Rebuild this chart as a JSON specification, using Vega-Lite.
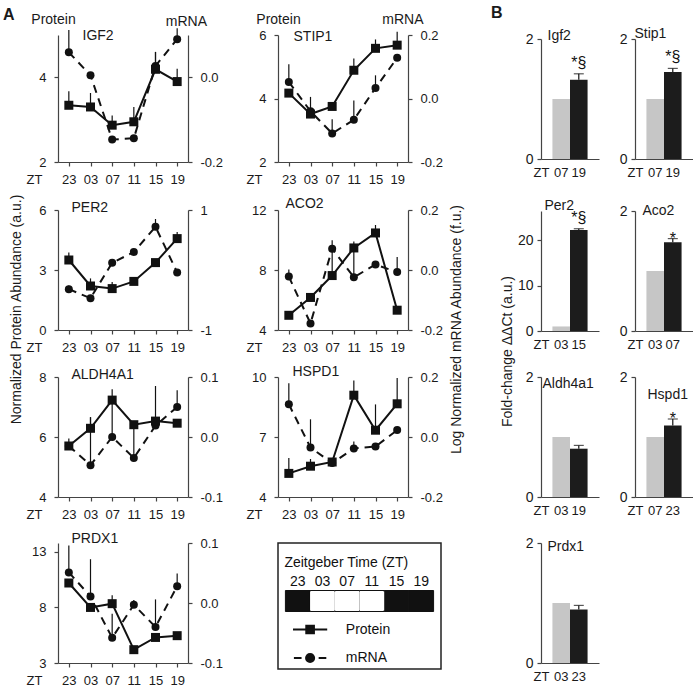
{
  "$schema": "https://vega.github.io/schema/vega-lite/v6.json",
  "padding": {"left": 3, "top": 5, "right": 0, "bottom": 0},
  "config": {
    "font": "Liberation Sans",
    "view": {"stroke": null},
    "axis": {"grid": false, "labelFontSize": 13, "labelColor": "#1a1a1a", "titleColor": "#1a1a1a", "titleFontWeight": "normal", "titleFontSize": 14, "domainColor": "#444", "tickColor": "#444", "tickSize": 4, "domainWidth": 1.2, "tickWidth": 1.2, "labelExpr": "replace(datum.label, '−', '-')"},
    "title": {"fontWeight": "normal", "color": "#1a1a1a", "fontSize": 14}
  },
  "datasets": {
    "a": [
      {"g": "IGF2", "zt": "23", "p": 3.34, "ph": 3.67, "m": 0.059, "mh": 0.112},
      {"g": "IGF2", "zt": "03", "p": 3.30, "ph": 3.63, "m": 0.005, "mh": 0.012},
      {"g": "IGF2", "zt": "07", "p": 2.87, "ph": 3.10, "m": -0.147, "mh": -0.140},
      {"g": "IGF2", "zt": "11", "p": 2.95, "ph": 3.30, "m": -0.144, "mh": -0.140},
      {"g": "IGF2", "zt": "15", "p": 4.19, "ph": 4.60, "m": 0.027, "mh": 0.060},
      {"g": "IGF2", "zt": "19", "p": 3.90, "ph": 4.20, "m": 0.090, "mh": 0.116},
      {"g": "STIP1", "zt": "23", "p": 4.17, "ph": 4.25, "m": 0.052, "mh": 0.108},
      {"g": "STIP1", "zt": "03", "p": 3.51, "ph": 4.05, "m": -0.040, "mh": -0.035},
      {"g": "STIP1", "zt": "07", "p": 3.75, "ph": 3.80, "m": -0.110, "mh": -0.065},
      {"g": "STIP1", "zt": "11", "p": 4.89, "ph": 5.26, "m": -0.067, "mh": -0.006},
      {"g": "STIP1", "zt": "15", "p": 5.58, "ph": 5.86, "m": 0.033, "mh": 0.073},
      {"g": "STIP1", "zt": "19", "p": 5.68, "ph": 6.10, "m": 0.128, "mh": 0.140},
      {"g": "PER2", "zt": "23", "p": 3.50, "ph": 3.87, "m": -0.32, "mh": -0.26},
      {"g": "PER2", "zt": "03", "p": 2.20, "ph": 2.58, "m": -0.47, "mh": -0.45},
      {"g": "PER2", "zt": "07", "p": 2.07, "ph": 2.40, "m": 0.12, "mh": 0.15},
      {"g": "PER2", "zt": "11", "p": 2.43, "ph": 2.50, "m": 0.30, "mh": 0.33},
      {"g": "PER2", "zt": "15", "p": 3.37, "ph": 3.45, "m": 0.72, "mh": 0.85},
      {"g": "PER2", "zt": "19", "p": 4.57, "ph": 4.90, "m": -0.04, "mh": 0.0},
      {"g": "ACO2", "zt": "23", "p": 4.98, "ph": 5.10, "m": -0.022, "mh": 0.002},
      {"g": "ACO2", "zt": "03", "p": 6.17, "ph": 6.40, "m": -0.178, "mh": -0.170},
      {"g": "ACO2", "zt": "07", "p": 7.63, "ph": 9.30, "m": 0.071, "mh": 0.099},
      {"g": "ACO2", "zt": "11", "p": 9.47, "ph": 9.90, "m": -0.024, "mh": 0.066},
      {"g": "ACO2", "zt": "15", "p": 10.47, "ph": 11.0, "m": 0.018, "mh": 0.030},
      {"g": "ACO2", "zt": "19", "p": 5.32, "ph": 5.50, "m": -0.007, "mh": 0.043},
      {"g": "ALDH4A1", "zt": "23", "p": 5.70, "ph": 5.95, "m": -0.015, "mh": -0.010},
      {"g": "ALDH4A1", "zt": "03", "p": 6.29, "ph": 6.66, "m": -0.047, "mh": 0.033},
      {"g": "ALDH4A1", "zt": "07", "p": 7.23, "ph": 7.59, "m": 0.000, "mh": 0.062},
      {"g": "ALDH4A1", "zt": "11", "p": 6.41, "ph": 6.45, "m": -0.035, "mh": 0.020},
      {"g": "ALDH4A1", "zt": "15", "p": 6.53, "ph": 7.70, "m": 0.019, "mh": 0.025},
      {"g": "ALDH4A1", "zt": "19", "p": 6.46, "ph": 6.50, "m": 0.050, "mh": 0.078},
      {"g": "HSPD1", "zt": "23", "p": 5.18, "ph": 5.95, "m": 0.109, "mh": 0.179},
      {"g": "HSPD1", "zt": "03", "p": 5.54, "ph": 5.90, "m": -0.035, "mh": 0.059},
      {"g": "HSPD1", "zt": "07", "p": 5.75, "ph": 5.85, "m": -0.087, "mh": -0.080},
      {"g": "HSPD1", "zt": "11", "p": 9.09, "ph": 9.83, "m": -0.038, "mh": -0.015},
      {"g": "HSPD1", "zt": "15", "p": 7.34, "ph": 8.63, "m": -0.032, "mh": -0.025},
      {"g": "HSPD1", "zt": "19", "p": 8.66, "ph": 9.95, "m": 0.023, "mh": 0.030},
      {"g": "PRDX1", "zt": "23", "p": 10.2, "ph": 10.4, "m": 0.051, "mh": 0.096},
      {"g": "PRDX1", "zt": "03", "p": 8.0, "ph": 8.1, "m": 0.011, "mh": 0.073},
      {"g": "PRDX1", "zt": "07", "p": 8.34, "ph": 9.1, "m": -0.058, "mh": -0.018},
      {"g": "PRDX1", "zt": "11", "p": 4.2, "ph": 4.4, "m": -0.003, "mh": 0.005},
      {"g": "PRDX1", "zt": "15", "p": 5.3, "ph": 5.5, "m": -0.040, "mh": 0.006},
      {"g": "PRDX1", "zt": "19", "p": 5.46, "ph": 5.8, "m": 0.028, "mh": 0.049}
    ],
    "b": [
      {"g": "Igf2", "zt": "07", "k": "c", "v": 1.0},
      {"g": "Igf2", "zt": "19", "k": "t", "v": 1.32, "vh": 1.42, "sig": "*§"},
      {"g": "Stip1", "zt": "07", "k": "c", "v": 1.0},
      {"g": "Stip1", "zt": "19", "k": "t", "v": 1.45, "vh": 1.51, "sig": "*§"},
      {"g": "Per2", "zt": "03", "k": "c", "v": 1.0},
      {"g": "Per2", "zt": "15", "k": "t", "v": 22.2, "vh": 22.5, "sig": "*§"},
      {"g": "Aco2", "zt": "03", "k": "c", "v": 1.0},
      {"g": "Aco2", "zt": "07", "k": "t", "v": 1.48, "vh": 1.54, "sig": "*"},
      {"g": "Aldh4a1", "zt": "03", "k": "c", "v": 1.0},
      {"g": "Aldh4a1", "zt": "19", "k": "t", "v": 0.805, "vh": 0.86, "sig": ""},
      {"g": "Hspd1", "zt": "07", "k": "c", "v": 1.0},
      {"g": "Hspd1", "zt": "23", "k": "t", "v": 1.19, "vh": 1.30, "sig": "*"},
      {"g": "Prdx1", "zt": "03", "k": "c", "v": 1.0},
      {"g": "Prdx1", "zt": "23", "k": "t", "v": 0.89, "vh": 0.96, "sig": ""}
    ],
    "leg": [
      {"row": "title", "label": "Zeitgeber Time (ZT)"},
      {"row": "bar", "zt": "23", "phase": "dark"},
      {"row": "bar", "zt": "03", "phase": "light"},
      {"row": "bar", "zt": "07", "phase": "light"},
      {"row": "bar", "zt": "11", "phase": "light"},
      {"row": "bar", "zt": "15", "phase": "dark"},
      {"row": "bar", "zt": "19", "phase": "dark"},
      {"row": "Protein", "label": "Protein"},
      {"row": "mRNA", "label": "mRNA"}
    ]
  },
  "spacing": 25,
  "center": true,
  "hconcat": [
    {
      "title": {"text": "A", "anchor": "start", "fontWeight": "bold", "fontSize": 16, "baseline": "middle", "offset": -3, "dy": 16, "dx": -7},
      "vconcat": [
        {
          "title": {"text": "Log Normalized mRNA Abundance (f.u.)", "orient": "right", "anchor": "middle", "angle": -90, "offset": -6, "dx": 20, "fontSize": 14},
          "vconcat": [
            {
              "title": {"text": "Normalized Protein Abundance (a.u.)", "orient": "left", "anchor": "middle", "offset": 2, "dx": 40, "fontSize": 14},
              "columns": 2,
              "spacing": {"row": 10, "column": 23},
              "concat": [
                {
                  "width": 130, "height": 127,
                  "title": {"text": "mRNA", "frame": "group", "anchor": "end", "dx": 19, "offset": -23.7, "baseline": "middle", "fontSize": 14},
                  "data": {"name": "a"},
                  "transform": [{"filter": "datum.g === 'IGF2'"}],
                  "encoding": {"x": {"field": "zt", "type": "ordinal", "sort": ["23", "03", "07", "11", "15", "19"], "scale": {"type": "point", "padding": 0.5}, "axis": {"title": "ZT", "titleX": -16, "titleY": 11, "titleAlign": "right", "titleBaseline": "top", "titleFontSize": 13, "labelAngle": 0, "labelPadding": 7}}},
                  "layer": [
                    {"encoding": {"y": {"field": "m", "type": "quantitative", "scale": {"domain": [-0.2, 0.1], "nice": false, "zero": false}, "axis": {"orient": "right", "values": [-0.2, 0], "format": ".1f", "labelPadding": 8, "title": "IGF2", "titleAngle": 0, "titleX": -106, "titleY": 0, "titleAlign": "left", "titleBaseline": "middle"}}},
                     "layer": [
                      {"mark": {"type": "rule", "color": "#111", "strokeWidth": 1.2}, "encoding": {"y2": {"field": "mh"}}},
                      {"mark": {"type": "line", "color": "#111", "strokeWidth": 2, "strokeDash": [8, 6]}},
                      {"mark": {"type": "point", "shape": "circle", "filled": true, "size": 64, "color": "#111", "opacity": 1}}
                    ]},
                    {"encoding": {"y": {"field": "p", "type": "quantitative", "scale": {"domain": [2, 5], "nice": false, "zero": false}, "axis": {"orient": "left", "values": [2, 4], "labelPadding": 8, "title": "Protein", "titleAngle": 0, "titleX": -5, "titleY": -16, "titleAlign": "center", "titleBaseline": "middle"}}},
                     "layer": [
                      {"mark": {"type": "rule", "color": "#111", "strokeWidth": 1.2}, "encoding": {"y2": {"field": "ph"}}},
                      {"mark": {"type": "line", "color": "#111", "strokeWidth": 2}},
                      {"mark": {"type": "point", "shape": "square", "filled": true, "size": 81, "color": "#111", "opacity": 1}}
                    ]}
                  ],
                  "resolve": {"scale": {"y": "independent"}}
                },
                {
                  "width": 130, "height": 127,
                  "title": {"text": "mRNA", "frame": "group", "anchor": "end", "dx": 15.5, "offset": -22.4, "baseline": "middle", "fontSize": 14},
                  "data": {"name": "a"},
                  "transform": [{"filter": "datum.g === 'STIP1'"}],
                  "encoding": {"x": {"field": "zt", "type": "ordinal", "sort": ["23", "03", "07", "11", "15", "19"], "scale": {"type": "point", "padding": 0.5}, "axis": {"title": "ZT", "titleX": -16, "titleY": 11, "titleAlign": "right", "titleBaseline": "top", "titleFontSize": 13, "labelAngle": 0, "labelPadding": 7}}},
                  "layer": [
                    {"encoding": {"y": {"field": "m", "type": "quantitative", "scale": {"domain": [-0.2, 0.2], "nice": false, "zero": false}, "axis": {"orient": "right", "values": [-0.2, 0, 0.2], "format": ".1f", "labelPadding": 8, "title": "STIP1", "titleAngle": 0, "titleX": -115, "titleY": 1.7, "titleAlign": "left", "titleBaseline": "middle"}}},
                     "layer": [
                      {"mark": {"type": "rule", "color": "#111", "strokeWidth": 1.2}, "encoding": {"y2": {"field": "mh"}}},
                      {"mark": {"type": "line", "color": "#111", "strokeWidth": 2, "strokeDash": [8, 6]}},
                      {"mark": {"type": "point", "shape": "circle", "filled": true, "size": 64, "color": "#111", "opacity": 1}}
                    ]},
                    {"encoding": {"y": {"field": "p", "type": "quantitative", "scale": {"domain": [2, 6], "nice": false, "zero": false}, "axis": {"orient": "left", "values": [2, 4, 6], "labelPadding": 8, "title": "Protein", "titleAngle": 0, "titleX": 0, "titleY": -16, "titleAlign": "center", "titleBaseline": "middle"}}},
                     "layer": [
                      {"mark": {"type": "rule", "color": "#111", "strokeWidth": 1.2}, "encoding": {"y2": {"field": "ph"}}},
                      {"mark": {"type": "line", "color": "#111", "strokeWidth": 2}},
                      {"mark": {"type": "point", "shape": "square", "filled": true, "size": 81, "color": "#111", "opacity": 1}}
                    ]}
                  ],
                  "resolve": {"scale": {"y": "independent"}}
                },
                {
                  "width": 130, "height": 120,
                  "data": {"name": "a"},
                  "transform": [{"filter": "datum.g === 'PER2'"}],
                  "encoding": {"x": {"field": "zt", "type": "ordinal", "sort": ["23", "03", "07", "11", "15", "19"], "scale": {"type": "point", "padding": 0.5}, "axis": {"title": "ZT", "titleX": -16, "titleY": 11, "titleAlign": "right", "titleBaseline": "top", "titleFontSize": 13, "labelAngle": 0, "labelPadding": 7}}},
                  "layer": [
                    {"encoding": {"y": {"field": "m", "type": "quantitative", "scale": {"domain": [-1, 1], "nice": false, "zero": false}, "axis": {"orient": "right", "values": [-1, 0, 1], "format": "d", "labelPadding": 8, "title": null}}},
                     "layer": [
                      {"mark": {"type": "rule", "color": "#111", "strokeWidth": 1.2}, "encoding": {"y2": {"field": "mh"}}},
                      {"mark": {"type": "line", "color": "#111", "strokeWidth": 2, "strokeDash": [8, 6]}},
                      {"mark": {"type": "point", "shape": "circle", "filled": true, "size": 64, "color": "#111", "opacity": 1}}
                    ]},
                    {"encoding": {"y": {"field": "p", "type": "quantitative", "scale": {"domain": [0, 6], "nice": false, "zero": false}, "axis": {"orient": "left", "values": [0, 3, 6], "labelPadding": 8, "title": "PER2", "titleAngle": 0, "titleX": 13, "titleY": -2.6, "titleAlign": "left", "titleBaseline": "middle"}}},
                     "layer": [
                      {"mark": {"type": "rule", "color": "#111", "strokeWidth": 1.2}, "encoding": {"y2": {"field": "ph"}}},
                      {"mark": {"type": "line", "color": "#111", "strokeWidth": 2}},
                      {"mark": {"type": "point", "shape": "square", "filled": true, "size": 81, "color": "#111", "opacity": 1}}
                    ]}
                  ],
                  "resolve": {"scale": {"y": "independent"}}
                },
                {
                  "width": 130, "height": 120,
                  "data": {"name": "a"},
                  "transform": [{"filter": "datum.g === 'ACO2'"}],
                  "encoding": {"x": {"field": "zt", "type": "ordinal", "sort": ["23", "03", "07", "11", "15", "19"], "scale": {"type": "point", "padding": 0.5}, "axis": {"title": "ZT", "titleX": -16, "titleY": 11, "titleAlign": "right", "titleBaseline": "top", "titleFontSize": 13, "labelAngle": 0, "labelPadding": 7}}},
                  "layer": [
                    {"encoding": {"y": {"field": "m", "type": "quantitative", "scale": {"domain": [-0.2, 0.2], "nice": false, "zero": false}, "axis": {"orient": "right", "values": [-0.2, 0, 0.2], "format": ".1f", "labelPadding": 8, "title": null}}},
                     "layer": [
                      {"mark": {"type": "rule", "color": "#111", "strokeWidth": 1.2}, "encoding": {"y2": {"field": "mh"}}},
                      {"mark": {"type": "line", "color": "#111", "strokeWidth": 2, "strokeDash": [8, 6]}},
                      {"mark": {"type": "point", "shape": "circle", "filled": true, "size": 64, "color": "#111", "opacity": 1}}
                    ]},
                    {"encoding": {"y": {"field": "p", "type": "quantitative", "scale": {"domain": [4, 12], "nice": false, "zero": false}, "axis": {"orient": "left", "values": [4, 8, 12], "labelPadding": 8, "title": "ACO2", "titleAngle": 0, "titleX": 7, "titleY": -6.6, "titleAlign": "left", "titleBaseline": "middle"}}},
                     "layer": [
                      {"mark": {"type": "rule", "color": "#111", "strokeWidth": 1.2}, "encoding": {"y2": {"field": "ph"}}},
                      {"mark": {"type": "line", "color": "#111", "strokeWidth": 2}},
                      {"mark": {"type": "point", "shape": "square", "filled": true, "size": 81, "color": "#111", "opacity": 1}}
                    ]}
                  ],
                  "resolve": {"scale": {"y": "independent"}}
                },
                {
                  "width": 130, "height": 120,
                  "data": {"name": "a"},
                  "transform": [{"filter": "datum.g === 'ALDH4A1'"}],
                  "encoding": {"x": {"field": "zt", "type": "ordinal", "sort": ["23", "03", "07", "11", "15", "19"], "scale": {"type": "point", "padding": 0.5}, "axis": {"title": "ZT", "titleX": -16, "titleY": 11, "titleAlign": "right", "titleBaseline": "top", "titleFontSize": 13, "labelAngle": 0, "labelPadding": 7}}},
                  "layer": [
                    {"encoding": {"y": {"field": "m", "type": "quantitative", "scale": {"domain": [-0.1, 0.1], "nice": false, "zero": false}, "axis": {"orient": "right", "values": [-0.1, 0, 0.1], "format": ".1f", "labelPadding": 8, "title": null}}},
                     "layer": [
                      {"mark": {"type": "rule", "color": "#111", "strokeWidth": 1.2}, "encoding": {"y2": {"field": "mh"}}},
                      {"mark": {"type": "line", "color": "#111", "strokeWidth": 2, "strokeDash": [8, 6]}},
                      {"mark": {"type": "point", "shape": "circle", "filled": true, "size": 64, "color": "#111", "opacity": 1}}
                    ]},
                    {"encoding": {"y": {"field": "p", "type": "quantitative", "scale": {"domain": [4, 8], "nice": false, "zero": false}, "axis": {"orient": "left", "values": [4, 6, 8], "labelPadding": 8, "title": "ALDH4A1", "titleAngle": 0, "titleX": 13, "titleY": -3, "titleAlign": "left", "titleBaseline": "middle"}}},
                     "layer": [
                      {"mark": {"type": "rule", "color": "#111", "strokeWidth": 1.2}, "encoding": {"y2": {"field": "ph"}}},
                      {"mark": {"type": "line", "color": "#111", "strokeWidth": 2}},
                      {"mark": {"type": "point", "shape": "square", "filled": true, "size": 81, "color": "#111", "opacity": 1}}
                    ]}
                  ],
                  "resolve": {"scale": {"y": "independent"}}
                },
                {
                  "width": 130, "height": 120,
                  "data": {"name": "a"},
                  "transform": [{"filter": "datum.g === 'HSPD1'"}],
                  "encoding": {"x": {"field": "zt", "type": "ordinal", "sort": ["23", "03", "07", "11", "15", "19"], "scale": {"type": "point", "padding": 0.5}, "axis": {"title": "ZT", "titleX": -16, "titleY": 11, "titleAlign": "right", "titleBaseline": "top", "titleFontSize": 13, "labelAngle": 0, "labelPadding": 7}}},
                  "layer": [
                    {"encoding": {"y": {"field": "m", "type": "quantitative", "scale": {"domain": [-0.2, 0.2], "nice": false, "zero": false}, "axis": {"orient": "right", "values": [-0.2, 0, 0.2], "format": ".1f", "labelPadding": 8, "title": null}}},
                     "layer": [
                      {"mark": {"type": "rule", "color": "#111", "strokeWidth": 1.2}, "encoding": {"y2": {"field": "mh"}}},
                      {"mark": {"type": "line", "color": "#111", "strokeWidth": 2, "strokeDash": [8, 6]}},
                      {"mark": {"type": "point", "shape": "circle", "filled": true, "size": 64, "color": "#111", "opacity": 1}}
                    ]},
                    {"encoding": {"y": {"field": "p", "type": "quantitative", "scale": {"domain": [4, 10], "nice": false, "zero": false}, "axis": {"orient": "left", "values": [4, 7, 10], "labelPadding": 8, "title": "HSPD1", "titleAngle": 0, "titleX": 14, "titleY": -5.7, "titleAlign": "left", "titleBaseline": "middle"}}},
                     "layer": [
                      {"mark": {"type": "rule", "color": "#111", "strokeWidth": 1.2}, "encoding": {"y2": {"field": "ph"}}},
                      {"mark": {"type": "line", "color": "#111", "strokeWidth": 2}},
                      {"mark": {"type": "point", "shape": "square", "filled": true, "size": 81, "color": "#111", "opacity": 1}}
                    ]}
                  ],
                  "resolve": {"scale": {"y": "independent"}}
                },
                {
                  "width": 130, "height": 120,
                  "data": {"name": "a"},
                  "transform": [{"filter": "datum.g === 'PRDX1'"}],
                  "encoding": {"x": {"field": "zt", "type": "ordinal", "sort": ["23", "03", "07", "11", "15", "19"], "scale": {"type": "point", "padding": 0.5}, "axis": {"title": "ZT", "titleX": -16, "titleY": 11, "titleAlign": "right", "titleBaseline": "top", "titleFontSize": 13, "labelAngle": 0, "labelPadding": 7}}},
                  "layer": [
                    {"encoding": {"y": {"field": "m", "type": "quantitative", "scale": {"domain": [-0.1, 0.1], "nice": false, "zero": false}, "axis": {"orient": "right", "values": [-0.1, 0, 0.1], "format": ".1f", "labelPadding": 8, "title": null}}},
                     "layer": [
                      {"mark": {"type": "rule", "color": "#111", "strokeWidth": 1.2}, "encoding": {"y2": {"field": "mh"}}},
                      {"mark": {"type": "line", "color": "#111", "strokeWidth": 2, "strokeDash": [8, 6]}},
                      {"mark": {"type": "point", "shape": "circle", "filled": true, "size": 64, "color": "#111", "opacity": 1}}
                    ]},
                    {"encoding": {"y": {"field": "p", "type": "quantitative", "scale": {"domain": [3, 13.8], "nice": false, "zero": false}, "axis": {"orient": "left", "values": [3, 8, 13], "labelPadding": 8, "title": "PRDX1", "titleAngle": 0, "titleX": 13, "titleY": -5, "titleAlign": "left", "titleBaseline": "middle"}}},
                     "layer": [
                      {"mark": {"type": "rule", "color": "#111", "strokeWidth": 1.2}, "encoding": {"y2": {"field": "ph"}}},
                      {"mark": {"type": "line", "color": "#111", "strokeWidth": 2}},
                      {"mark": {"type": "point", "shape": "square", "filled": true, "size": 81, "color": "#111", "opacity": 1}}
                    ]}
                  ],
                  "resolve": {"scale": {"y": "independent"}}
                },
                {
                  "width": 163, "height": 126,
                  "view": {"stroke": "#222", "strokeWidth": 1.5},
                  "data": {"name": "leg"},
                  "encoding": {
                    "x": {"field": "zt", "type": "ordinal", "scale": {"type": "band", "domain": ["23", "03", "07", "11", "15", "19"], "paddingInner": 0, "paddingOuter": 0.3}, "axis": null},
                    "y": {"field": "row", "type": "ordinal", "scale": {"type": "point", "domain": ["title", "s1", "zt", "s2", "bar", "s3", "s4", "Protein", "s5", "s6", "mRNA"], "range": [20, 115], "padding": 0}, "axis": null}
                  },
                  "layer": [
                    {"transform": [{"filter": "datum.row === 'title'"}], "mark": {"type": "text", "align": "left", "baseline": "middle", "fontSize": 14, "dx": -1, "color": "#111"}, "encoding": {"x": {"datum": "23", "type": "ordinal", "bandPosition": 0}, "text": {"field": "label"}}},
                    {"transform": [{"filter": "datum.row === 'bar'"}], "mark": {"type": "rect", "height": 21, "stroke": "#111", "strokeWidth": 1}, "encoding": {"fill": {"field": "phase", "type": "nominal", "scale": {"domain": ["dark", "light"], "range": ["#111111", "#ffffff"]}, "legend": null}}},
                    {"transform": [{"filter": "datum.phase === 'light'"}], "mark": {"type": "rect", "height": 19, "fill": "#ffffff"}},
                    {"transform": [{"filter": "datum.row === 'bar'"}], "mark": {"type": "text", "baseline": "middle", "fontSize": 14, "color": "#111"}, "encoding": {"y": {"datum": "zt", "type": "ordinal"}, "text": {"field": "zt"}}},
                    {"transform": [{"filter": "datum.row === 'Protein' || datum.row === 'mRNA'"}], "mark": {"type": "point", "filled": true, "size": 81, "color": "#111", "stroke": "#111", "strokeWidth": 2, "opacity": 1}, "encoding": {"x": {"datum": "23", "type": "ordinal", "bandPosition": 1}, "shape": {"field": "row", "type": "nominal", "scale": {"domain": ["Protein", "mRNA"], "range": ["M-3.8,0H3.8M-0.85,-0.85H0.85V0.85H-0.85Z", "M-3.6,0H-1.9M1.9,0H3.6M-0.9,0A0.9,0.9,0,1,1,0.9,0A0.9,0.9,0,1,1,-0.9,0Z"]}, "legend": null}}},
                    {"transform": [{"filter": "datum.row === 'Protein' || datum.row === 'mRNA'"}], "mark": {"type": "text", "align": "left", "baseline": "middle", "fontSize": 14, "dx": 11, "color": "#111"}, "encoding": {"x": {"datum": "07", "type": "ordinal", "bandPosition": 0}, "text": {"field": "label"}}}
                  ]
                }
              ]
            }
          ]
        }
      ]
    },
    {
      "title": {"text": "B", "anchor": "start", "fontWeight": "bold", "fontSize": 16, "baseline": "middle", "offset": -3, "dx": -10},
      "vconcat": [
        {
          "title": {"text": "Fold-change ΔΔCt (a.u.)", "orient": "left", "anchor": "middle", "offset": 2, "dx": 3, "fontSize": 14},
          "columns": 2,
          "spacing": {"row": 19, "column": 12},
          "concat": [
            {
              "width": 58, "height": 120,
              "data": {"name": "b"},
              "transform": [{"filter": "datum.g === 'Igf2'"}],
              "encoding": {"x": {"field": "zt", "type": "ordinal", "sort": null, "scale": {"paddingInner": 0, "paddingOuter": 0.65}, "axis": {"title": "ZT", "titleX": -8, "titleY": 7, "titleAlign": "left", "titleBaseline": "top", "titleFontSize": 13, "labelFontSize": 13, "labelAngle": 0, "ticks": false, "labelPadding": 7}}},
              "layer": [
                {"mark": {"type": "bar"}, "encoding": {"y": {"field": "v", "type": "quantitative", "scale": {"domain": [0, 2], "nice": false}, "axis": {"values": [0, 1, 2], "format": "d", "labelFontSize": 14, "labelPadding": 4, "minExtent": 24, "title": "Igf2", "titleAngle": 0, "titleX": 6, "titleY": -4, "titleAlign": "left", "titleBaseline": "middle"}}, "color": {"field": "k", "type": "nominal", "scale": {"domain": ["c", "t"], "range": ["#c6c6c6", "#1c1c1c"]}, "legend": null}}},
                {"transform": [{"filter": "datum.k === 't'"}], "mark": {"type": "rule", "color": "#111", "strokeWidth": 1.2}, "encoding": {"y": {"field": "v", "type": "quantitative"}, "y2": {"field": "vh"}}},
                {"transform": [{"filter": "datum.k === 't'"}], "mark": {"type": "tick", "color": "#111", "thickness": 1.2, "size": 10, "orient": "horizontal"}, "encoding": {"y": {"field": "vh", "type": "quantitative"}}},
                {"transform": [{"filter": "datum.sig === '*§'"}], "mark": {"type": "text", "baseline": "bottom", "dy": -3, "fontSize": 16, "color": "#111"}, "encoding": {"y": {"field": "vh", "type": "quantitative"}, "text": {"field": "sig"}}},
                {"transform": [{"filter": "datum.sig === '*'"}], "mark": {"type": "text", "baseline": "bottom", "dy": 8, "fontSize": 16, "color": "#111"}, "encoding": {"y": {"field": "vh", "type": "quantitative"}, "text": {"field": "sig"}}}
              ]
            },
            {
              "width": 58, "height": 120,
              "data": {"name": "b"},
              "transform": [{"filter": "datum.g === 'Stip1'"}],
              "encoding": {"x": {"field": "zt", "type": "ordinal", "sort": null, "scale": {"paddingInner": 0, "paddingOuter": 0.65}, "axis": {"title": "ZT", "titleX": -8, "titleY": 7, "titleAlign": "left", "titleBaseline": "top", "titleFontSize": 13, "labelFontSize": 13, "labelAngle": 0, "ticks": false, "labelPadding": 7}}},
              "layer": [
                {"mark": {"type": "bar"}, "encoding": {"y": {"field": "v", "type": "quantitative", "scale": {"domain": [0, 2], "nice": false}, "axis": {"values": [0, 1, 2], "format": "d", "labelFontSize": 14, "labelPadding": 4, "minExtent": 24, "title": "Stip1", "titleAngle": 0, "titleX": -1, "titleY": -6, "titleAlign": "left", "titleBaseline": "middle"}}, "color": {"field": "k", "type": "nominal", "scale": {"domain": ["c", "t"], "range": ["#c6c6c6", "#1c1c1c"]}, "legend": null}}},
                {"transform": [{"filter": "datum.k === 't'"}], "mark": {"type": "rule", "color": "#111", "strokeWidth": 1.2}, "encoding": {"y": {"field": "v", "type": "quantitative"}, "y2": {"field": "vh"}}},
                {"transform": [{"filter": "datum.k === 't'"}], "mark": {"type": "tick", "color": "#111", "thickness": 1.2, "size": 10, "orient": "horizontal"}, "encoding": {"y": {"field": "vh", "type": "quantitative"}}},
                {"transform": [{"filter": "datum.sig === '*§'"}], "mark": {"type": "text", "baseline": "bottom", "dy": -3, "fontSize": 16, "color": "#111"}, "encoding": {"y": {"field": "vh", "type": "quantitative"}, "text": {"field": "sig"}}},
                {"transform": [{"filter": "datum.sig === '*'"}], "mark": {"type": "text", "baseline": "bottom", "dy": 8, "fontSize": 16, "color": "#111"}, "encoding": {"y": {"field": "vh", "type": "quantitative"}, "text": {"field": "sig"}}}
              ]
            },
            {
              "width": 58, "height": 120,
              "data": {"name": "b"},
              "transform": [{"filter": "datum.g === 'Per2'"}],
              "encoding": {"x": {"field": "zt", "type": "ordinal", "sort": null, "scale": {"paddingInner": 0, "paddingOuter": 0.65}, "axis": {"title": "ZT", "titleX": -8, "titleY": 7, "titleAlign": "left", "titleBaseline": "top", "titleFontSize": 13, "labelFontSize": 13, "labelAngle": 0, "ticks": false, "labelPadding": 7}}},
              "layer": [
                {"mark": {"type": "bar"}, "encoding": {"y": {"field": "v", "type": "quantitative", "scale": {"domain": [0, 26.4], "nice": false}, "axis": {"values": [0, 10, 20], "format": "d", "labelFontSize": 14, "labelPadding": 4, "minExtent": 24, "title": "Per2", "titleAngle": 0, "titleX": 3, "titleY": -6, "titleAlign": "left", "titleBaseline": "middle"}}, "color": {"field": "k", "type": "nominal", "scale": {"domain": ["c", "t"], "range": ["#c6c6c6", "#1c1c1c"]}, "legend": null}}},
                {"transform": [{"filter": "datum.k === 't'"}], "mark": {"type": "rule", "color": "#111", "strokeWidth": 1.2}, "encoding": {"y": {"field": "v", "type": "quantitative"}, "y2": {"field": "vh"}}},
                {"transform": [{"filter": "datum.k === 't'"}], "mark": {"type": "tick", "color": "#111", "thickness": 1.2, "size": 10, "orient": "horizontal"}, "encoding": {"y": {"field": "vh", "type": "quantitative"}}},
                {"transform": [{"filter": "datum.sig === '*§'"}], "mark": {"type": "text", "baseline": "bottom", "dy": -3, "fontSize": 16, "color": "#111"}, "encoding": {"y": {"field": "vh", "type": "quantitative"}, "text": {"field": "sig"}}},
                {"transform": [{"filter": "datum.sig === '*'"}], "mark": {"type": "text", "baseline": "bottom", "dy": 8, "fontSize": 16, "color": "#111"}, "encoding": {"y": {"field": "vh", "type": "quantitative"}, "text": {"field": "sig"}}}
              ]
            },
            {
              "width": 58, "height": 120,
              "data": {"name": "b"},
              "transform": [{"filter": "datum.g === 'Aco2'"}],
              "encoding": {"x": {"field": "zt", "type": "ordinal", "sort": null, "scale": {"paddingInner": 0, "paddingOuter": 0.65}, "axis": {"title": "ZT", "titleX": -8, "titleY": 7, "titleAlign": "left", "titleBaseline": "top", "titleFontSize": 13, "labelFontSize": 13, "labelAngle": 0, "ticks": false, "labelPadding": 7}}},
              "layer": [
                {"mark": {"type": "bar"}, "encoding": {"y": {"field": "v", "type": "quantitative", "scale": {"domain": [0, 2], "nice": false}, "axis": {"values": [0, 1, 2], "format": "d", "labelFontSize": 14, "labelPadding": 4, "minExtent": 24, "title": "Aco2", "titleAngle": 0, "titleX": 7, "titleY": -1, "titleAlign": "left", "titleBaseline": "middle"}}, "color": {"field": "k", "type": "nominal", "scale": {"domain": ["c", "t"], "range": ["#c6c6c6", "#1c1c1c"]}, "legend": null}}},
                {"transform": [{"filter": "datum.k === 't'"}], "mark": {"type": "rule", "color": "#111", "strokeWidth": 1.2}, "encoding": {"y": {"field": "v", "type": "quantitative"}, "y2": {"field": "vh"}}},
                {"transform": [{"filter": "datum.k === 't'"}], "mark": {"type": "tick", "color": "#111", "thickness": 1.2, "size": 10, "orient": "horizontal"}, "encoding": {"y": {"field": "vh", "type": "quantitative"}}},
                {"transform": [{"filter": "datum.sig === '*§'"}], "mark": {"type": "text", "baseline": "bottom", "dy": -3, "fontSize": 16, "color": "#111"}, "encoding": {"y": {"field": "vh", "type": "quantitative"}, "text": {"field": "sig"}}},
                {"transform": [{"filter": "datum.sig === '*'"}], "mark": {"type": "text", "baseline": "bottom", "dy": 8, "fontSize": 16, "color": "#111"}, "encoding": {"y": {"field": "vh", "type": "quantitative"}, "text": {"field": "sig"}}}
              ]
            },
            {
              "width": 58, "height": 120,
              "data": {"name": "b"},
              "transform": [{"filter": "datum.g === 'Aldh4a1'"}],
              "encoding": {"x": {"field": "zt", "type": "ordinal", "sort": null, "scale": {"paddingInner": 0, "paddingOuter": 0.65}, "axis": {"title": "ZT", "titleX": -8, "titleY": 7, "titleAlign": "left", "titleBaseline": "top", "titleFontSize": 13, "labelFontSize": 13, "labelAngle": 0, "ticks": false, "labelPadding": 7}}},
              "layer": [
                {"mark": {"type": "bar"}, "encoding": {"y": {"field": "v", "type": "quantitative", "scale": {"domain": [0, 2], "nice": false}, "axis": {"values": [0, 1, 2], "format": "d", "labelFontSize": 14, "labelPadding": 4, "minExtent": 24, "title": "Aldh4a1", "titleAngle": 0, "titleX": 1, "titleY": 6.7, "titleAlign": "left", "titleBaseline": "middle"}}, "color": {"field": "k", "type": "nominal", "scale": {"domain": ["c", "t"], "range": ["#c6c6c6", "#1c1c1c"]}, "legend": null}}},
                {"transform": [{"filter": "datum.k === 't'"}], "mark": {"type": "rule", "color": "#111", "strokeWidth": 1.2}, "encoding": {"y": {"field": "v", "type": "quantitative"}, "y2": {"field": "vh"}}},
                {"transform": [{"filter": "datum.k === 't'"}], "mark": {"type": "tick", "color": "#111", "thickness": 1.2, "size": 10, "orient": "horizontal"}, "encoding": {"y": {"field": "vh", "type": "quantitative"}}}
              ]
            },
            {
              "width": 58, "height": 120,
              "data": {"name": "b"},
              "transform": [{"filter": "datum.g === 'Hspd1'"}],
              "encoding": {"x": {"field": "zt", "type": "ordinal", "sort": null, "scale": {"paddingInner": 0, "paddingOuter": 0.65}, "axis": {"title": "ZT", "titleX": -8, "titleY": 7, "titleAlign": "left", "titleBaseline": "top", "titleFontSize": 13, "labelFontSize": 13, "labelAngle": 0, "ticks": false, "labelPadding": 7}}},
              "layer": [
                {"mark": {"type": "bar"}, "encoding": {"y": {"field": "v", "type": "quantitative", "scale": {"domain": [0, 2], "nice": false}, "axis": {"values": [0, 1, 2], "format": "d", "labelFontSize": 14, "labelPadding": 4, "minExtent": 24, "title": "Hspd1", "titleAngle": 0, "titleX": 12, "titleY": 17, "titleAlign": "left", "titleBaseline": "middle"}}, "color": {"field": "k", "type": "nominal", "scale": {"domain": ["c", "t"], "range": ["#c6c6c6", "#1c1c1c"]}, "legend": null}}},
                {"transform": [{"filter": "datum.k === 't'"}], "mark": {"type": "rule", "color": "#111", "strokeWidth": 1.2}, "encoding": {"y": {"field": "v", "type": "quantitative"}, "y2": {"field": "vh"}}},
                {"transform": [{"filter": "datum.k === 't'"}], "mark": {"type": "tick", "color": "#111", "thickness": 1.2, "size": 10, "orient": "horizontal"}, "encoding": {"y": {"field": "vh", "type": "quantitative"}}},
                {"transform": [{"filter": "datum.sig === '*§'"}], "mark": {"type": "text", "baseline": "bottom", "dy": -3, "fontSize": 16, "color": "#111"}, "encoding": {"y": {"field": "vh", "type": "quantitative"}, "text": {"field": "sig"}}},
                {"transform": [{"filter": "datum.sig === '*'"}], "mark": {"type": "text", "baseline": "bottom", "dy": 8, "fontSize": 16, "color": "#111"}, "encoding": {"y": {"field": "vh", "type": "quantitative"}, "text": {"field": "sig"}}}
              ]
            },
            {
              "width": 58, "height": 120,
              "data": {"name": "b"},
              "transform": [{"filter": "datum.g === 'Prdx1'"}],
              "encoding": {"x": {"field": "zt", "type": "ordinal", "sort": null, "scale": {"paddingInner": 0, "paddingOuter": 0.65}, "axis": {"title": "ZT", "titleX": -8, "titleY": 7, "titleAlign": "left", "titleBaseline": "top", "titleFontSize": 13, "labelFontSize": 13, "labelAngle": 0, "ticks": false, "labelPadding": 7}}},
              "layer": [
                {"mark": {"type": "bar"}, "encoding": {"y": {"field": "v", "type": "quantitative", "scale": {"domain": [0, 2], "nice": false}, "axis": {"values": [0, 1, 2], "format": "d", "labelFontSize": 14, "labelPadding": 4, "minExtent": 24, "title": "Prdx1", "titleAngle": 0, "titleX": 6, "titleY": 3, "titleAlign": "left", "titleBaseline": "middle"}}, "color": {"field": "k", "type": "nominal", "scale": {"domain": ["c", "t"], "range": ["#c6c6c6", "#1c1c1c"]}, "legend": null}}},
                {"transform": [{"filter": "datum.k === 't'"}], "mark": {"type": "rule", "color": "#111", "strokeWidth": 1.2}, "encoding": {"y": {"field": "v", "type": "quantitative"}, "y2": {"field": "vh"}}},
                {"transform": [{"filter": "datum.k === 't'"}], "mark": {"type": "tick", "color": "#111", "thickness": 1.2, "size": 10, "orient": "horizontal"}, "encoding": {"y": {"field": "vh", "type": "quantitative"}}}
              ]
            }
          ]
        }
      ]
    }
  ]
}
